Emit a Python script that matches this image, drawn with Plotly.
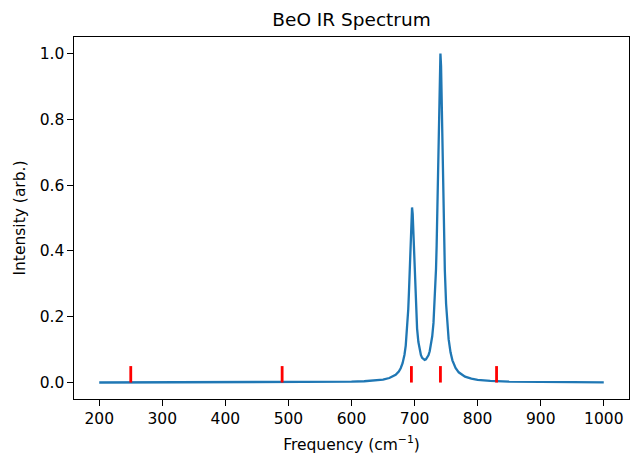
import plotly.graph_objects as go

# Spectrum curve
freq = [200, 250, 300, 350, 400, 450, 500, 550, 580, 600, 620, 640, 650, 660, 665,
        670, 675, 678, 681, 684, 686, 688, 690, 691, 692, 693, 694, 695, 696, 697,
        698, 699, 700, 701, 702, 704, 706, 708, 710, 712, 714, 716, 718, 720, 722,
        724, 726, 728, 730, 732, 734, 735, 736, 737, 738, 739, 740, 741, 742, 743,
        744, 745, 746, 747, 748, 750, 752, 754, 757, 760, 765, 770, 780, 790, 800,
        820, 850, 900, 950, 1000]
intensity = [0.0001, 0.0002, 0.0002, 0.0003, 0.0004, 0.0005, 0.0008, 0.0013, 0.0019, 0.0027,
             0.0040, 0.0066, 0.0091, 0.0138, 0.0175, 0.0235, 0.0336, 0.0435, 0.0589, 0.0845,
             0.1122, 0.1548, 0.2226, 0.2698, 0.3273, 0.3931, 0.4594, 0.5116, 0.5321, 0.5127,
             0.4616, 0.3963, 0.3317, 0.2753, 0.2292, 0.1639, 0.1239, 0.0992, 0.0840, 0.0750,
             0.0702, 0.0688, 0.0704, 0.0750, 0.0829, 0.0952, 0.1135, 0.1405, 0.1812, 0.2443,
             0.3447, 0.4158, 0.5050, 0.6137, 0.7382, 0.8638, 0.9624, 1.0000, 0.9619, 0.8627,
             0.7365, 0.6115, 0.5022, 0.4124, 0.3406, 0.2388, 0.1743, 0.1319, 0.0919, 0.0675,
             0.0441, 0.0311, 0.0179, 0.0117, 0.0083, 0.0048, 0.0026, 0.0013, 0.0008, 0.0005]

# Stick (mode) positions and heights
stick_freq = [250, 490, 695, 741, 830]
stick_height = [0.05, 0.05, 0.05, 0.05, 0.05]

x_ticks = [200, 300, 400, 500, 600, 700, 800, 900, 1000]
y_ticks = [0.0, 0.2, 0.4, 0.6, 0.8, 1.0]
y_tick_labels = ["0.0", "0.2", "0.4", "0.6", "0.8", "1.0"]

sx, sy = [], []
for f, h in zip(stick_freq, stick_height):
    sx += [f, f, None]
    sy += [0, h, None]

FONT = "DejaVu Sans"
W, H = 633, 459  # page adds an 8px body margin

fig = go.Figure()
fig.add_trace(go.Scatter(x=freq, y=intensity, mode="lines",
                         line=dict(color="#1f77b4", width=2.3), showlegend=False,
                         hoverinfo="skip"))
fig.add_trace(go.Scatter(x=sx, y=sy, mode="lines",
                         line=dict(color="#ff0000", width=2.8), showlegend=False,
                         hoverinfo="skip"))

axis_common = dict(showline=True, linecolor="black", linewidth=1.2, mirror=True,
                   ticks="outside", ticklen=5.5, tickwidth=1.2, tickcolor="black",
                   showgrid=False, zeroline=False,
                   tickfont=dict(family=FONT, size=15.5, color="black"))

fig.update_layout(
    width=W, height=H,
    margin=dict(l=64, r=11, t=29, b=68),
    paper_bgcolor="white", plot_bgcolor="white",
    font=dict(family=FONT, color="black"),
    title=dict(text="BeO IR Spectrum", x=0.5, xref="paper", y=1 - 12 / H,
               yref="container", xanchor="center", yanchor="middle",
               font=dict(family=FONT, size=18.5, color="black")),
    xaxis=dict(range=[160, 1040], tickvals=x_ticks,
               title=dict(text="Frequency (cm<sup>−1</sup>)", standoff=11,
                          font=dict(family=FONT, size=15.5, color="black")),
               **axis_common),
    yaxis=dict(range=[-0.05, 1.05], tickvals=y_ticks, ticktext=y_tick_labels,
               title=dict(text="Intensity (arb.)", standoff=10,
                          font=dict(family=FONT, size=15.5, color="black")),
               **axis_common),
)

fig.write_html("out.html")
